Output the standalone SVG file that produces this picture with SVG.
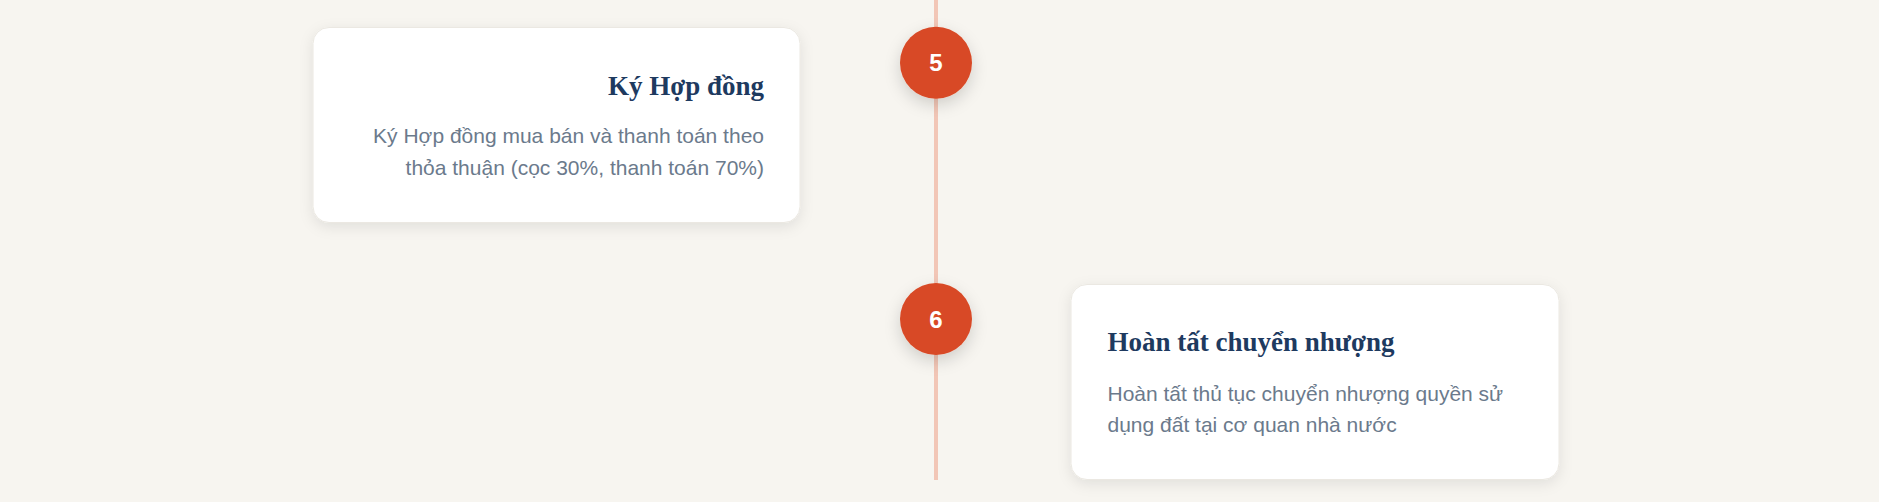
<svg xmlns="http://www.w3.org/2000/svg" width="1879" height="502" viewBox="0 0 1879 502">
  <defs>
    <filter id="cardShadow" x="-10%" y="-15%" width="120%" height="140%">
      <feDropShadow dx="0" dy="4" stdDeviation="7" flood-color="#000000" flood-opacity="0.09"/>
    </filter>
    <filter id="dotShadow" x="-60%" y="-60%" width="220%" height="220%">
      <feDropShadow dx="0" dy="6" stdDeviation="8" flood-color="#000000" flood-opacity="0.16"/>
    </filter>
    <style>
      .bg { fill: #f7f5f0; }
      .card { fill: #ffffff; stroke: #ebe8e2; stroke-width: 1; filter: url(#cardShadow); }
      .dot { fill: #d84a26; filter: url(#dotShadow); }
      .num { fill: #ffffff; font-family: "Liberation Sans", Arial, sans-serif; font-weight: bold; font-size: 24px; text-anchor: middle; }
      .title { fill: #1e3a5f; font-family: "Liberation Serif", "Times New Roman", serif; font-weight: bold; font-size: 27px; }
      .desc { fill: #6b7a8c; font-family: "Liberation Sans", Arial, sans-serif; font-size: 21px; }
      .line { fill: #f2c6b6; }
    </style>
  </defs>
  <rect class="bg" x="0" y="0" width="1879" height="502"/>
  <g id="connectors">
    <rect class="line" x="934" y="0" width="4" height="480"/>
  </g>
  <g id="node-5">
    <rect class="card" x="313" y="27.5" width="487" height="195" rx="16" ry="16"/>
    <text class="title" x="764" y="94.5" text-anchor="end">Ký Hợp đồng</text>
    <text class="desc" x="764" y="143" text-anchor="end">Ký Hợp đồng mua bán và thanh toán theo</text>
    <text class="desc" x="764" y="175" text-anchor="end">thỏa thuận (cọc 30%, thanh toán 70%)</text>
  </g>
  <g id="step-5">
    <circle class="dot" cx="936" cy="62.7" r="36"/>
    <text class="num" x="936" y="71">5</text>
  </g>
  <g id="step-6">
    <circle class="dot" cx="936" cy="319" r="36"/>
    <text class="num" x="936" y="327.5">6</text>
  </g>
  <g id="node-6">
    <rect class="card" x="1071" y="284.5" width="488" height="195" rx="16" ry="16"/>
    <text class="title" x="1107.5" y="351">Hoàn tất chuyển nhượng</text>
    <text class="desc" x="1107.5" y="400.5">Hoàn tất thủ tục chuyển nhượng quyền sử</text>
    <text class="desc" x="1107.5" y="432">dụng đất tại cơ quan nhà nước</text>
  </g>
</svg>
